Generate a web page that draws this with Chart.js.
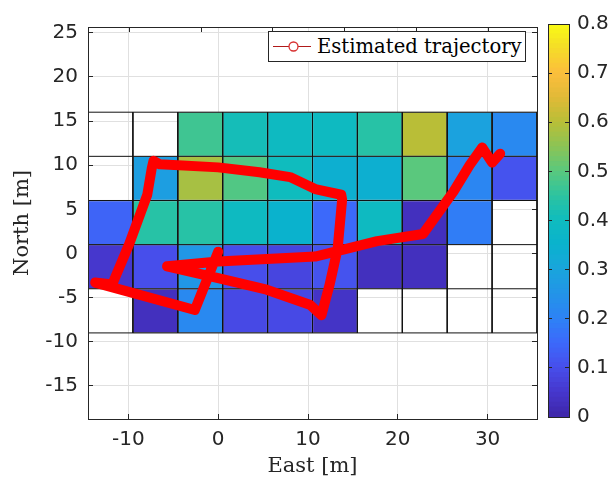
<!DOCTYPE html>
<html>
<head>
<meta charset="utf-8">
<script src="https://cdn.jsdelivr.net/npm/chart.js@4.4.1/dist/chart.umd.min.js"></script>
<style>
html, body { margin: 0; padding: 0; background: #ffffff; }
#wrap { position: relative; width: 611px; height: 481px; overflow: hidden; background: #fff; }
#main { position: absolute; left: 0; top: 0; }
#cbar { position: absolute; left: 540px; top: 0; }
#legend { position: absolute; left: 268px; top: 31px; width: 256px; height: 29px; border: 1px solid #262626; background: #fff; }
#legend svg { position: absolute; left: 0; top: 0; }
#legendText { position: absolute; left: 48px; top: 0; line-height: 29px; font-family: 'DejaVu Serif', serif; font-size: 19.6px; color: #000; white-space: nowrap; }
</style>
</head>
<body>
<div id="wrap">
  <canvas id="main" width="611" height="481"></canvas>
  <canvas id="cbar" width="71" height="481"></canvas>
  <div id="legend">
    <svg width="46" height="29"><line x1="4" y1="14.5" x2="42" y2="14.5" stroke="#b01a1a" stroke-width="1.2"/><circle cx="24.5" cy="14.5" r="4.5" fill="#fff" stroke="#d83030" stroke-width="1.3"/></svg>
    <span id="legendText">Estimated trajectory</span>
  </div>
</div>
<script>
// ---------------- data ----------------
const trajectoryLabel = 'Estimated trajectory';
const xTitle = 'East [m]';
const yTitle = 'North [m]';

// grid cell column centres (East, m) and row bounds (North, m)
const colCenters = [-12, -7, -2, 3, 8, 13, 18, 23, 28, 33];
const cellWidth = 5;
const rowBounds = [[11, 16], [6, 11], [1, 6], [-4, 1], [-9, -4]];

// cell values per row (null = empty cell)
const row1 = [null, null, 0.47, 0.41, 0.39, 0.39, 0.44, 0.60, 0.29, 0.22];
const row2 = [null, 0.28, 0.58, 0.49, 0.40, 0.34, 0.34, 0.50, 0.21, 0.11];
const row3 = [0.14, 0.44, 0.44, 0.39, 0.35, 0.15, 0.39, 0.03, 0.19, null];
const row4 = [0.05, 0.10, 0.26, 0.10, 0.08, 0.11, 0.03, 0.03, null, null];
const row5 = [null, 0.03, 0.22, 0.09, 0.09, 0.04, null, null, null, null];
const cellRows = [row1, row2, row3, row4, row5];

// estimated trajectory
const trajEast  = [0, -2.6, -13.7, -11.8, -9.9, -7.9, -7.4, -7.2, -6.5, 0, 4.6, 8.0, 10.8, 13.7, 13.8, 13.3, 12.4, 11.5, 10.2, 5.4, 0, -5.7, 0, 10.8, 17.7, 22.8, 26.2, 28.0, 29.4, 30.5, 31.4];
const trajNorth = [0.2, -6.4, -3.3, -3.5, 1.1, 6.65, 9.65, 10.5, 10.1, 9.75, 9.2, 8.65, 7.3, 6.65, 6.1, 0.55, -3.55, -7.0, -5.8, -4.1, -2.8, -1.45, -0.9, -0.35, 1.4, 2.2, 7.0, 10.0, 12.0, 10.3, 11.3];

// axes
const xRange = [-14.5, 35.5];
const yRange = [-18.75, 25.65];
const xTickValues = [-10, 0, 10, 20, 30];
const yTickValues = [-15, -10, -5, 0, 5, 10, 15, 20, 25];
const cbarRange = [0, 0.8];
const cbarTickValues = [0, 0.1, 0.2, 0.3, 0.4, 0.5, 0.6, 0.7, 0.8];

// parula-like colormap stops [fraction, r, g, b]
const parulaStops = [
  [0.0000, 62, 38, 168], [0.0625, 70, 55, 205], [0.125, 71, 78, 235], [0.1875, 60, 105, 250],
  [0.25, 45, 130, 245], [0.3125, 35, 148, 232], [0.375, 25, 165, 220], [0.4375, 10, 178, 205],
  [0.5, 15, 188, 190], [0.5625, 45, 195, 160], [0.625, 90, 200, 125], [0.6875, 140, 195, 85],
  [0.75, 185, 190, 55], [0.8125, 225, 185, 55], [0.875, 252, 190, 60], [0.9375, 245, 220, 40],
  [1.0, 249, 251, 20]
];

// ---------------- helpers ----------------
function cmap(v) {
  let t = (v - cbarRange[0]) / (cbarRange[1] - cbarRange[0]);
  t = Math.max(0, Math.min(1, t));
  for (let i = 1; i < parulaStops.length; i++) {
    const a = parulaStops[i - 1], b = parulaStops[i];
    if (t <= b[0]) {
      const f = (t - a[0]) / (b[0] - a[0]);
      const r = Math.round(a[1] + f * (b[1] - a[1]));
      const g = Math.round(a[2] + f * (b[2] - a[2]));
      const bl = Math.round(a[3] + f * (b[3] - a[3]));
      return `rgb(${r},${g},${bl})`;
    }
  }
  return 'rgb(249,251,20)';
}
const setTicks = (vals) => (scale) => { scale.ticks = vals.map(v => ({ value: v })); };

const AX = '#262626';
Chart.defaults.font.family = "'DejaVu Sans', sans-serif";
Chart.defaults.font.size = 20;
Chart.defaults.color = AX;

// cell datasets
const cellDatasets = cellRows.map((vals, r) => ({
  type: 'bar',
  label: 'row' + (r + 1),
  data: colCenters.map((c) => ({ x: c, y: rowBounds[r] })),
  backgroundColor: vals.map(v => v === null ? 'rgba(255,255,255,0)' : cmap(v)),
  borderColor: vals.map(v => v === null ? 'rgba(255,255,255,0)' : '#a4a4a4'),
  borderWidth: 1,
  borderSkipped: false,
  grouped: false,
  barPercentage: 1,
  categoryPercentage: 1,
  order: 3
}));

// black cell boundary lines
const colEdges = [colCenters[0] - cellWidth / 2, ...colCenters.map(c => c + cellWidth / 2)];
const rowEdges = [rowBounds[0][1], ...rowBounds.map(b => b[0])];
const gridLineDatasets = [];
rowEdges.forEach(y => gridLineDatasets.push({
  type: 'line', label: 'h', data: [{ x: colEdges[0], y: y }, { x: colEdges[colEdges.length - 1], y: y }],
  borderColor: '#111', borderWidth: 1, pointRadius: 0, order: 2
}));
colEdges.forEach(x => gridLineDatasets.push({
  type: 'line', label: 'v', data: [{ x: x, y: rowEdges[0] }, { x: x, y: rowEdges[rowEdges.length - 1] }],
  borderColor: '#111', borderWidth: 1, pointRadius: 0, order: 2
}));

const trajDataset = {
  type: 'line',
  label: trajectoryLabel,
  data: trajEast.map((e, i) => ({ x: e, y: trajNorth[i] })),
  borderColor: '#ff0000',
  borderWidth: 10,
  borderJoinStyle: 'round',
  borderCapStyle: 'round',
  pointRadius: 0,
  tension: 0,
  order: 1
};

const tickGrid = (len) => ({ display: true, drawOnChartArea: false, drawTicks: true, tickLength: len, tickColor: AX, tickWidth: 1 });

new Chart(document.getElementById('main'), {
  type: 'bar',
  data: { datasets: [...cellDatasets, ...gridLineDatasets, trajDataset] },
  options: {
    responsive: false,
    animation: false,
    devicePixelRatio: 1,
    layout: { padding: { left: 0, right: 74, top: 19, bottom: 0 } },
    plugins: { legend: { display: false }, tooltip: { enabled: false } },
    scales: {
      x: {
        type: 'linear', position: 'bottom', min: xRange[0], max: xRange[1], offset: false,
        afterBuildTicks: setTicks(xTickValues),
        ticks: { padding: 14, color: AX, maxRotation: 0, autoSkip: false },
        grid: { display: true, offset: false, color: '#e0e0e0', drawTicks: true, tickLength: -5, tickColor: AX },
        border: { display: true, color: AX, width: 1, z: 1 },
        title: { display: true, text: xTitle, font: { family: "'DejaVu Serif', serif", size: 21 }, color: AX, padding: { top: 0, bottom: 2 } },
        afterFit: (s) => { s.height = 62; }
      },
      y: {
        type: 'linear', position: 'left', min: yRange[0], max: yRange[1],
        afterBuildTicks: setTicks(yTickValues),
        ticks: { padding: 15, color: AX, autoSkip: false },
        grid: { display: true, color: '#e0e0e0', drawTicks: true, tickLength: -5, tickColor: AX },
        border: { display: true, color: AX, width: 1, z: 1 },
        title: { display: true, text: yTitle, font: { family: "'DejaVu Serif', serif", size: 21 }, color: AX, padding: { top: 10, bottom: 0 } },
        afterFit: (s) => { s.width = 88; }
      },
      xTop: {
        type: 'linear', position: 'top', min: xRange[0], max: xRange[1], display: true,
        afterBuildTicks: setTicks(xTickValues),
        ticks: { display: false },
        grid: tickGrid(-5),
        border: { display: true, color: AX, width: 1, z: 1 },
        afterFit: (s) => { s.height = 0; }
      },
      yRight: {
        type: 'linear', position: 'right', min: yRange[0], max: yRange[1], display: true,
        afterBuildTicks: setTicks(yTickValues),
        ticks: { display: false },
        grid: tickGrid(-5),
        border: { display: true, color: AX, width: 1, z: 1 },
        afterFit: (s) => { s.width = 0; }
      }
    }
  }
});

// ---------------- colorbar ----------------
const cbarSteps = 80;
const cbarDatasets = [];
for (let i = 0; i < cbarSteps; i++) {
  const lo = cbarRange[0] + (cbarRange[1] - cbarRange[0]) * i / cbarSteps;
  const hi = cbarRange[0] + (cbarRange[1] - cbarRange[0]) * (i + 1) / cbarSteps;
  cbarDatasets.push({
    label: 'c' + i,
    data: [[lo, hi]],
    backgroundColor: cmap((lo + hi) / 2),
    borderWidth: 0,
    grouped: false,
    barPercentage: 1,
    categoryPercentage: 1,
    inflateAmount: 0.5
  });
}

new Chart(document.getElementById('cbar'), {
  type: 'bar',
  data: { labels: [''], datasets: cbarDatasets },
  options: {
    responsive: false,
    animation: false,
    devicePixelRatio: 1,
    layout: { padding: { left: 8, right: 0, top: 19, bottom: 64 } },
    plugins: { legend: { display: false }, tooltip: { enabled: false } },
    scales: {
      x: {
        type: 'category', position: 'bottom', display: true,
        ticks: { display: false }, grid: { display: false },
        border: { display: true, color: AX, width: 1, z: 1 },
        afterFit: (s) => { s.height = 0; }
      },
      xTop: {
        type: 'category', position: 'top', display: true, labels: [''],
        ticks: { display: false }, grid: { display: false },
        border: { display: true, color: AX, width: 1, z: 1 },
        afterFit: (s) => { s.height = 0; }
      },
      y: {
        type: 'linear', position: 'right', min: cbarRange[0], max: cbarRange[1],
        afterBuildTicks: setTicks(cbarTickValues),
        ticks: { padding: 12, color: AX, autoSkip: false },
        grid: { display: true, drawOnChartArea: false, drawTicks: true, tickLength: -4, tickColor: AX, z: 1 },
        border: { display: true, color: AX, width: 1, z: 1 },
        afterFit: (s) => { s.width = 42; }
      },
      yLeft: {
        type: 'linear', position: 'left', min: cbarRange[0], max: cbarRange[1], display: true,
        afterBuildTicks: setTicks(cbarTickValues),
        ticks: { display: false },
        grid: { display: true, drawOnChartArea: false, drawTicks: true, tickLength: -4, tickColor: AX, z: 1 },
        border: { display: true, color: AX, width: 1, z: 1 },
        afterFit: (s) => { s.width = 0; }
      }
    }
  }
});
</script>
</body>
</html>
